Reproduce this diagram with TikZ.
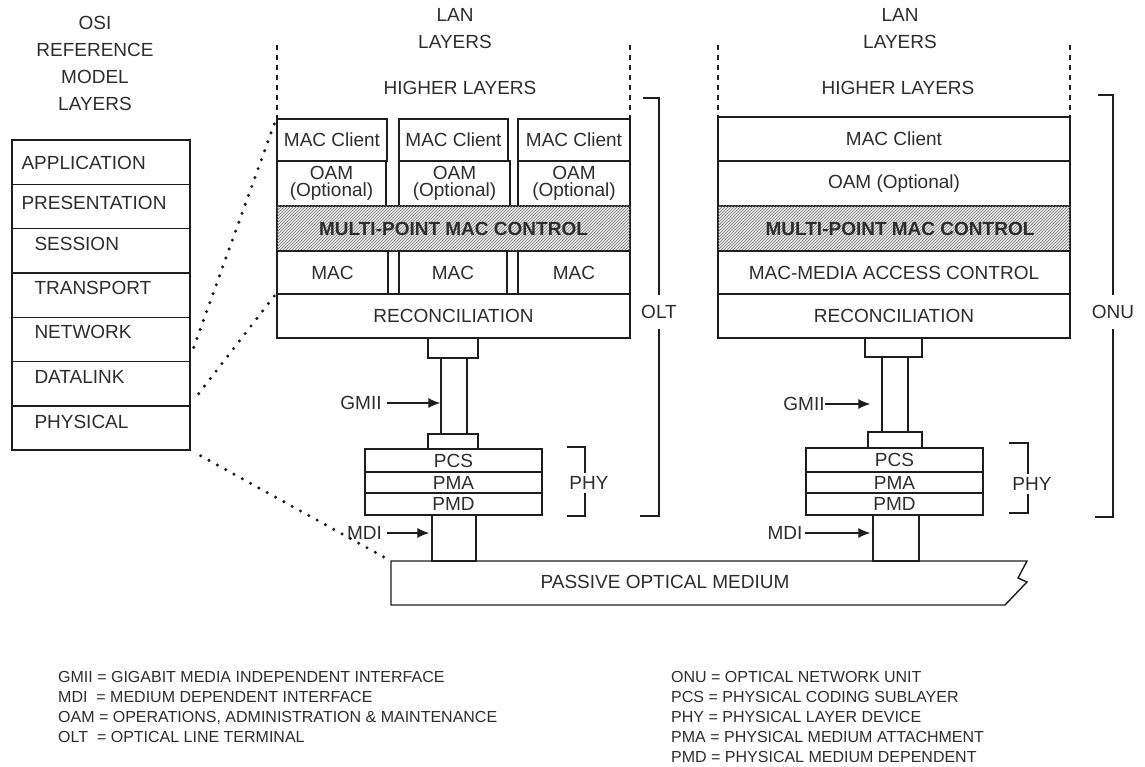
\documentclass[tikz,border=0pt]{standalone}
\usepackage{fontspec}
\setmainfont{Liberation Sans}
\usetikzlibrary{arrows.meta, patterns}
\definecolor{PONInk}{RGB}{30, 30, 30}
\definecolor{PONText}{RGB}{45, 45, 45}
\definecolor{PONHatch}{RGB}{120, 120, 120}

\tikzset{
  layer/.style={draw=PONInk, line width=1.4pt, inner sep=0pt, align=center,
    text=PONText, font=\fontsize{19}{17}\selectfont},
  osirow/.style={layer, minimum width=178pt, minimum height=44.3pt},
  osilabel/.style={anchor=west, inner sep=0pt, text=PONText, font=\fontsize{19}{21}\selectfont},
  hatched/.style={fill=gray!15, postaction={pattern=north east lines, pattern color=PONHatch}},
  tag/.style={inner sep=0pt, align=center, text=PONText, font=\fontsize{19}{27}\selectfont},
  gaptag/.style={tag, fill=white, inner xsep=1pt, inner ysep=10pt},
  legend/.style={anchor=north west, inner sep=0pt, align=left, text=PONText,
    font=\fontsize{16}{20}\selectfont},
  dotline/.style={PONInk, line width=3.4pt, line cap=round, dash pattern=on 0pt off 9.5pt},
  marker/.style={PONInk, line width=1.2pt, -{Latex[length=12pt,width=10pt]}},
  bracket/.style={PONInk, line width=1.4pt},
  guide/.style={PONInk, line width=1.3pt, dash pattern=on 5pt off 5pt},
}

\begin{document}
\begin{tikzpicture}[x=1pt,y=-1pt]
  \path[use as bounding box] (0,0) rectangle (1145,767);

  % OSI reference model
  \node[tag] (osi-title) at (95,63.5) {OSI\\REFERENCE\\MODEL\\LAYERS};
  \node[osirow, label={[osilabel, xshift=10pt, yshift=-1pt]west:APPLICATION}] (osi-app) at (101,162.15) {};
  \node[osirow, label={[osilabel, xshift=10pt, yshift=3pt]west:PRESENTATION}] (osi-pre) at (101,206.45) {};
  \node[osirow, label={[osilabel, xshift=23pt, yshift=7pt]west:SESSION}] (osi-ses) at (101,250.75) {};
  \node[osirow, label={[osilabel, xshift=23pt, yshift=7pt]west:TRANSPORT}] (osi-tra) at (101,295.05) {};
  \node[osirow, label={[osilabel, xshift=23pt, yshift=7pt]west:NETWORK}] (osi-net) at (101,339.35) {};
  \node[osirow, label={[osilabel, xshift=23pt, yshift=6.5pt]west:DATALINK}] (osi-dl) at (101,383.65) {};
  \node[osirow, label={[osilabel, xshift=23pt, yshift=6pt]west:PHYSICAL}] (osi-phy) at (101,427.95) {};

  % OLT side
  \node[tag] (olt-title) at (455,28.5) {LAN\\LAYERS};
  \node[tag] (olt-higher) at (460,88) {HIGHER LAYERS};
  \draw[guide] (277,45) -- (277,118);
  \draw[guide] (630,45) -- (630,118);
  \node[layer, minimum width=110pt, minimum height=42pt] (olt-client1) at (332,140) {MAC Client};
  \node[layer, minimum width=109pt, minimum height=42pt] (olt-client2) at (453.5,140) {MAC Client};
  \node[layer, minimum width=112pt, minimum height=42pt] (olt-client3) at (574,140) {MAC Client};
  \node[layer, minimum width=109pt, minimum height=45pt] (olt-oam1) at (331.5,183.5) {OAM\\(Optional)};
  \node[layer, minimum width=111pt, minimum height=45pt] (olt-oam2) at (454.5,183.5) {OAM\\(Optional)};
  \node[layer, minimum width=112pt, minimum height=45pt] (olt-oam3) at (574,183.5) {OAM\\(Optional)};
  \node[layer, hatched, minimum width=353pt, minimum height=45pt, font=\fontsize{19}{17}\selectfont\bfseries] (olt-mmc) at (453.5,228.5) {MULTI-POINT MAC CONTROL};
  \node[layer, minimum width=111pt, minimum height=43pt] (olt-mac1) at (332.5,272.5) {MAC};
  \node[layer, minimum width=108pt, minimum height=43pt] (olt-mac2) at (453,272.5) {MAC};
  \node[layer, minimum width=112pt, minimum height=43pt] (olt-mac3) at (574,272.5) {MAC};
  \node[layer, minimum width=353pt, minimum height=44pt] (olt-recon) at (453.5,316) {RECONCILIATION};
  \node[layer, minimum width=50pt, minimum height=20pt] (olt-cap) at (453,348) {};
  \node[layer, minimum width=26pt, minimum height=76pt] (olt-gmii) at (454,396) {};
  \node[layer, minimum width=50pt, minimum height=15pt] (olt-foot) at (453,441.5) {};
  \node[layer, minimum width=177pt, minimum height=23pt] (olt-pcs) at (453.5,460.5) {PCS};
  \node[layer, minimum width=177pt, minimum height=21pt] (olt-pma) at (453.5,482.5) {PMA};
  \node[layer, minimum width=177pt, minimum height=22pt] (olt-pmd) at (453.5,504) {PMD};
  \node[layer, minimum width=44pt, minimum height=46pt] (olt-mdi) at (454,538) {};

  \node[tag] (olt-gmii-tag) at (361,403) {GMII};
  \draw[marker, shorten <=5pt] (olt-gmii-tag.east) -- (olt-gmii-tag.east -| olt-gmii.west);
  \node[tag] (olt-mdi-tag) at (364.5,533) {MDI};
  \draw[marker, shorten <=5pt, shorten >=2pt] (olt-mdi-tag.east) -- (olt-mdi-tag.east -| olt-mdi.west);

  \draw[bracket] (567,447) -- (585,447) -- (585,516) -- (567,516);
  \node[gaptag, inner ysep=3pt] (olt-phy) at (589,483) {PHY};
  \draw[bracket] (643,98) -- (659,98) -- (659,516) -- (640,516);
  \node[gaptag] (olt-label) at (659,312) {OLT};

  % ONU side
  \node[tag] (onu-title) at (900,28.5) {LAN\\LAYERS};
  \node[tag] (onu-higher) at (898,88) {HIGHER LAYERS};
  \draw[guide] (718,45) -- (718,117);
  \draw[guide] (1070,45) -- (1070,117);
  \node[layer, minimum width=352pt, minimum height=44pt] (onu-client) at (894,139) {MAC Client};
  \node[layer, minimum width=352pt, minimum height=45pt] (onu-oam) at (894,183.5) {OAM (Optional)};
  \node[layer, hatched, minimum width=352pt, minimum height=45pt, font=\fontsize{19}{17}\selectfont\bfseries] (onu-mmc) at (894,228.5) {\hspace*{12pt}MULTI-POINT MAC CONTROL};
  \node[layer, minimum width=352pt, minimum height=43pt] (onu-mac) at (894,272.5) {MAC-MEDIA ACCESS CONTROL};
  \node[layer, minimum width=352pt, minimum height=44pt] (onu-recon) at (894,316) {RECONCILIATION};
  \node[layer, minimum width=57pt, minimum height=19pt] (onu-cap) at (893.5,347.5) {};
  \node[layer, minimum width=26pt, minimum height=75pt] (onu-gmii) at (895,394.5) {};
  \node[layer, minimum width=54pt, minimum height=16pt] (onu-foot) at (895,440) {};
  \node[layer, minimum width=177pt, minimum height=24pt] (onu-pcs) at (894.5,460) {PCS};
  \node[layer, minimum width=177pt, minimum height=21pt] (onu-pma) at (894.5,482.5) {PMA};
  \node[layer, minimum width=177pt, minimum height=22pt] (onu-pmd) at (894.5,504) {PMD};
  \node[layer, minimum width=46pt, minimum height=46pt] (onu-mdi) at (896,538) {};

  \node[tag] (onu-gmii-tag) at (804,404) {GMII};
  \draw[marker] (onu-gmii-tag.east) -- ([xshift=-11pt]onu-gmii-tag.east -| onu-gmii.west);
  \node[tag] (onu-mdi-tag) at (785,533) {MDI};
  \draw[marker, shorten <=2pt, shorten >=2pt] (onu-mdi-tag.east) -- (onu-mdi-tag.east -| onu-mdi.west);

  \draw[bracket] (1009,443) -- (1028,443) -- (1028,513) -- (1009,513);
  \node[gaptag, inner ysep=3pt] (onu-phy) at (1032,484) {PHY};
  \draw[bracket] (1098,95) -- (1113,95) -- (1113,517) -- (1095,517);
  \node[gaptag] (onu-label) at (1113,312) {ONU};

  % passive optical medium
  \draw[bracket] (391,561) -- (1027,561) -- (1018,578) -- (1027,582) -- (1005,605) -- (391,605) -- cycle;
  \coordinate (pon-nw) at (391,561);
  \node[tag] (pon-label) at (665,582) {PASSIVE OPTICAL MEDIUM};

  % dotted mapping
  \draw[dotline] ([xshift=3pt,yshift=-8pt]osi-net.east) -- (olt-client1.north west);
  \draw[dotline] ([xshift=8pt,yshift=-10pt]osi-dl.east) -- (olt-recon.north west);
  \draw[dotline] ([xshift=10pt,yshift=-5pt]osi-phy.south east) -- (pon-nw);

  % legend
  \node[legend] (legend-left) at (58,671) {GMII = GIGABIT MEDIA INDEPENDENT INTERFACE\\
    MDI\ \ = MEDIUM DEPENDENT INTERFACE\\
    OAM = OPERATIONS, ADMINISTRATION \& MAINTENANCE\\
    OLT\ \ = OPTICAL LINE TERMINAL};
  \node[legend] (legend-right) at (671,671) {ONU = OPTICAL NETWORK UNIT\\
    PCS = PHYSICAL CODING SUBLAYER\\
    PHY = PHYSICAL LAYER DEVICE\\
    PMA = PHYSICAL MEDIUM ATTACHMENT\\
    PMD = PHYSICAL MEDIUM DEPENDENT};
\end{tikzpicture}
\end{document}
